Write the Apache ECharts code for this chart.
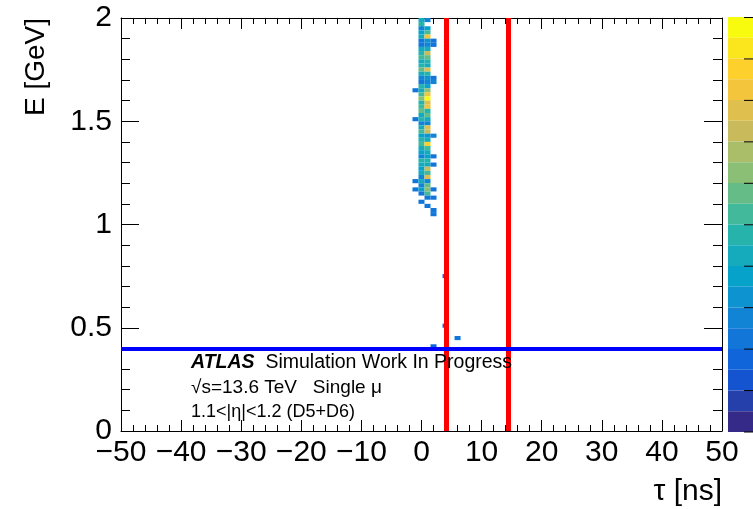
<!DOCTYPE html>
<html><head><meta charset="utf-8">
<script src="https://cdn.jsdelivr.net/npm/echarts/dist/echarts.min.js"></script>
<style>html,body{margin:0;padding:0;background:#fff;}#c{width:753px;height:509px;}</style>
</head><body><div id="c"></div>
<script>
// ---- data ----
const tauRange = [-50, 50];
const energyRange = [0, 2];
const tauBinWidth = 1;
const energyBinWidth = 0.02;
// main cluster: energy bin lower edges (top to bottom) and counts per tau column
const clusterEnergy = [1.98,1.96,1.94,1.92,1.90,1.88,1.86,1.84,1.82,1.80,1.78,1.76,1.74,1.72,1.70,1.68,1.66,1.64,1.62,1.60,1.58,1.56,1.54,1.52,1.50,1.48,1.46,1.44,1.42,1.40,1.38,1.36,1.34,1.32,1.30,1.28,1.26,1.24,1.22,1.20,1.18,1.16,1.14,1.12,1.10,1.08,1.06,1.04];
const countsTauM1 = [0,0,0,0,0,0,0,0,0,0,0,0,0,0,0,0,0,5,0,0,0,0,0,0,5,0,0,0,0,0,0,0,0,0,0,0,0,0,0,5,0,5,0,0,0,0,0,0];
const countsTau0  = [9,10,6,8,9,5,5,9,10,11,9,10,12,9,6,5,10,9,11,13,10,11,12,9,10,6,9,11,8,10,11,9,8,6,10,9,8,9,6,9,6,8,5,0,5,0,0,0];
const countsTau1  = [6,0,8,11,17,7,6,9,15,12,10,9,16,10,7,6,8,13,17,20,16,17,10,12,9,6,16,15,7,9,18,11,9,8,10,9,15,11,16,6,12,13,11,5,0,5,0,0];
const countsTau2  = [0,0,0,0,0,5,5,0,0,0,0,0,0,0,5,6,0,0,0,0,0,0,0,0,0,0,0,0,6,0,0,0,0,5,0,5,0,0,0,0,0,5,0,5,0,0,5,5];
// isolated low-energy entries
const isolatedTau = [4, 4, 6, 2];
const isolatedEnergy = [0.74, 0.50, 0.44, 0.40];
const isolatedCounts = [4, 4, 5, 4];
// selection cuts
const tauCuts = [4.2, 14.4];
const energyCuts = [0.4];
const colorLevels = 20;

// ---- build cells ----
const cells = [];
const cols = [[-1, countsTauM1],[0, countsTau0],[1, countsTau1],[2, countsTau2]];
clusterEnergy.forEach((e, i) => {
  cols.forEach(([t, arr]) => { if (arr[i] > 0) cells.push([t, e, arr[i]]); });
});
isolatedTau.forEach((t, i) => cells.push([t, isolatedEnergy[i], isolatedCounts[i]]));

// kBird palette
const birdStops = [0,0.125,0.25,0.375,0.5,0.625,0.75,0.875,1];
const birdR = [0.2082,0.0592,0.0780,0.0232,0.1802,0.5301,0.8186,0.9956,0.9764];
const birdG = [0.1664,0.3599,0.5041,0.6419,0.7178,0.7492,0.7328,0.7862,0.9832];
const birdB = [0.5293,0.8684,0.8385,0.7914,0.6425,0.4662,0.3499,0.1968,0.0539];
function bird(t){
  let k = 0; while (k < 7 && t > birdStops[k+1]) k++;
  const f = (t - birdStops[k]) / (birdStops[k+1] - birdStops[k]);
  const c = a => Math.round(255 * (a[k] + f * (a[k+1] - a[k])));
  return 'rgb(' + c(birdR) + ',' + c(birdG) + ',' + c(birdB) + ')';
}
const pieces = [];
for (let i = 0; i < colorLevels; i++) pieces.push({gt: i, lte: i + 1, color: bird(i / (colorLevels - 1))});

const FONT = '"Liberation Sans", Arial, Helvetica, sans-serif';
const fmt = v => String(v).replace('-', '\u2212');

function axisX(pos, labels){
  return {type:'value', position: pos, min: tauRange[0], max: tauRange[1], interval: 10,
    axisLine:{show:true, onZero:false, lineStyle:{color:'#000', width:1}},
    axisTick:{show:true, inside:true, length:11, lineStyle:{color:'#000', width:1}},
    minorTick:{show:true, splitNumber:5, length:6, lineStyle:{color:'#000', width:1}},
    splitLine:{show:false}, minorSplitLine:{show:false},
    axisLabel:{show: labels, fontSize:30, fontFamily:FONT, color:'#000', margin:7, formatter: fmt}};
}
function axisY(pos, labels){
  return {type:'value', position: pos, min: energyRange[0], max: energyRange[1], interval: 0.5,
    axisLine:{show:true, onZero:false, lineStyle:{color:'#000', width:1}},
    axisTick:{show:true, inside:true, length:18, lineStyle:{color:'#000', width:1}},
    minorTick:{show:true, splitNumber:5, length:9, lineStyle:{color:'#000', width:1}},
    splitLine:{show:false}, minorSplitLine:{show:false},
    axisLabel:{show: labels, fontSize:30, fontFamily:FONT, color:'#000', margin:9, formatter: fmt}};
}

const chart = echarts.init(document.getElementById('c'), null, {renderer:'canvas'});
const cbTicks = [];
for (let j = 0; j <= 10; j++) cbTicks.push({type:'line', shape:{x1:744, y1:17.5 + j*41.45, x2:753, y2:17.5 + j*41.45}, style:{stroke:'#000', lineWidth:1}, z:100});

chart.setOption({
  animation:false,
  backgroundColor:'#fff',
  grid:{left:121, right:31, top:18, bottom:78, outerBoundsMode:'none'},
  xAxis:[axisX('bottom', true), axisX('top', false)],
  yAxis:[axisY('left', true), axisY('right', false)],
  visualMap:{type:'piecewise', seriesIndex:0, dimension:2, pieces: pieces, orient:'vertical',
    left:728, top:17, itemWidth:26, itemHeight:20.75, itemGap:0, itemSymbol:'rect',
    showLabel:false, selectedMode:false, padding:0, hoverLink:false},
  series:[
    {type:'custom', coordinateSystem:'cartesian2d', xAxisIndex:0, yAxisIndex:0,
     encode:{x:0, y:1}, data: cells,
     renderItem: function(params, api){
       const t = api.value(0), e = api.value(1);
       const p0 = api.coord([t - tauBinWidth/2, e]);
       const p1 = api.coord([t + tauBinWidth/2, e + energyBinWidth]);
       return {type:'rect', shape:{x:p0[0], y:p1[1], width:p1[0]-p0[0], height:p0[1]-p1[1]},
               style:{fill: api.visual('color')}};
     }, z:2},
    {type:'line', data:[], xAxisIndex:0, yAxisIndex:0, z:5,
     markLine:{silent:true, symbol:'none', label:{show:false}, animation:false,
       data: tauCuts.map(v => ({xAxis:v, lineStyle:{color:'#ff0000', width:5, type:'solid'}}))
         .concat(energyCuts.map(v => ({yAxis:v, lineStyle:{color:'#0000ff', width:4, type:'solid'}})))}}
  ],
  graphic:[
    {type:'text', x:36, y:18, rotation:Math.PI/2, z:100,
     style:{text:'E [GeV]', font:'28px ' + FONT, fill:'#000', textAlign:'right', textVerticalAlign:'middle'}},
    {type:'text', x:722, y:492, z:100,
     style:{text:'\u03c4 [ns]', font:'30px ' + FONT, fill:'#000', textAlign:'right', textVerticalAlign:'middle'}},
    {type:'text', x:191, y:363, z:100,
     style:{text:'{b|ATLAS}  Simulation Work In Progress', font:'19.5px ' + FONT, fill:'#000', textVerticalAlign:'middle',
       rich:{b:{fontStyle:'italic', fontWeight:'bold', fontSize:19.5, fontFamily:FONT}}}},
    {type:'text', x:191, y:388, z:100,
     style:{text:'\u221as=13.6 TeV   Single \u03bc', font:'19px ' + FONT, fill:'#000', textVerticalAlign:'middle'}},
    {type:'text', x:191, y:412, z:100,
     style:{text:'1.1<|\u03b7|<1.2 (D5+D6)', font:'18px ' + FONT, fill:'#000', textVerticalAlign:'middle'}}
  ].concat(cbTicks)
});
</script></body></html>
